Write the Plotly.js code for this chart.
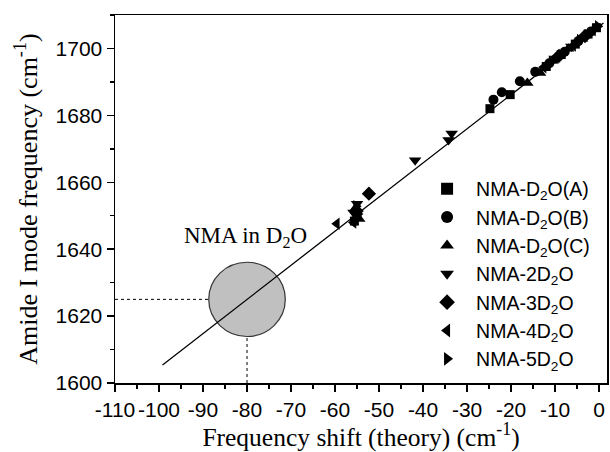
<!DOCTYPE html>
<html>
<head>
<meta charset="utf-8">
<script src="https://cdn.plot.ly/plotly-3.0.1.min.js"></script>
<style>
  html, body { margin: 0; padding: 0; background: #fff; }
  #chart { width: 610px; height: 452px; }
</style>
</head>
<body>
<div id="chart"></div>
<script>
// ---- data ----
const seriesNames = [
  'NMA-D<sub>2</sub>O(A)', 'NMA-D<sub>2</sub>O(B)', 'NMA-D<sub>2</sub>O(C)',
  'NMA-2D<sub>2</sub>O', 'NMA-3D<sub>2</sub>O', 'NMA-4D<sub>2</sub>O', 'NMA-5D<sub>2</sub>O'
];
const xA = [-24.8, -20.2, -55.6, -55.0, -12.0, -8.6, -5.4, -2.5, -0.6];
const yA = [1682.0, 1686.2, 1648.4, 1650.2, 1694.6, 1698.2, 1701.3, 1704.3, 1706.2];
const xB = [-24.0, -22.1, -18.0, -14.5, -11.3, -7.8, -4.7, -1.8];
const yB = [1684.7, 1686.9, 1690.2, 1693.0, 1695.6, 1699.0, 1702.2, 1705.1];
const xC = [-55.5, -54.5, -16.3, -13.4, -10.5, -7.0, -3.9, -1.1];
const yC = [1652.0, 1649.0, 1689.7, 1692.7, 1696.3, 1699.9, 1702.9, 1705.8];
const x2 = [-41.8, -34.2, -33.5, -55.8, -55.0, -9.8, -6.3];
const y2 = [1666.6, 1672.6, 1674.6, 1651.0, 1653.6, 1697.0, 1700.6];
const x3 = [-52.3, -55.1, -9.1, -3.2];
const y3 = [1656.6, 1651.4, 1697.8, 1703.7];
const x4 = [-59.6, -55.8, -12.6, -5.9, -1.4];
const y4 = [1647.6, 1648.0, 1694.4, 1700.9, 1705.5];
const x5 = [-54.8, -55.2, -10.8, -4.4, -0.3];
const y5 = [1650.5, 1652.8, 1696.1, 1702.5, 1706.6];
const fitX = [-99.2, 1.0];
const fitY = [1605.4, 1707.6];
const nmaX = -80;      // NMA in D2O shift
const nmaY = 1625;     // NMA in D2O frequency
const xTickVals = [-110, -100, -90, -80, -70, -60, -50, -40, -30, -20, -10, 0];
const xTickText = ['-110', '-100', '-90', '-80', '-70', '-60', '-50', '-40', '-30', '-20', '-10', '0'];
const yTickVals = [1600, 1620, 1640, 1660, 1680, 1700];
const yTickText = ['1600', '1620', '1640', '1660', '1680', '1700'];

// ---- styles ----
const symbols = ['square', 'circle', 'triangle-up', 'triangle-down', 'diamond', 'triangle-left', 'triangle-right'];
const sizes = [9, 10, 11, 11, 11, 11, 11];
const xs = [xA, xB, xC, x2, x3, x4, x5];
const ys = [yA, yB, yC, y2, y3, y4, y5];

const traces = [{
  x: fitX, y: fitY, mode: 'lines', type: 'scatter',
  line: { color: '#000', width: 1.3 }, showlegend: false, hoverinfo: 'skip'
}];
for (let i = 0; i < xs.length; i++) {
  traces.push({
    x: xs[i], y: ys[i], name: seriesNames[i], mode: 'markers', type: 'scatter',
    marker: { symbol: symbols[i], size: sizes[i], color: '#000', line: { width: 0 } }
  });
}

const rx = 8.7, ry = 11.1;
const serif = '"Liberation Serif", "Times New Roman", serif';
const sans = '"Liberation Sans", Arial, sans-serif';

const layout = {
  width: 610, height: 452,
  margin: { l: 115, r: 3, t: 15, b: 69 },
  paper_bgcolor: '#fff', plot_bgcolor: '#fff',
  font: { family: sans, color: '#000', size: 21 },
  showlegend: true,
  legend: {
    x: 0.616, y: 0.58, xanchor: 'left', yanchor: 'top',
    bgcolor: 'rgba(0,0,0,0)', borderwidth: 0,
    font: { family: sans, size: 19.5, color: '#000' },
    itemwidth: 48, tracegroupgap: 0, itemsizing: 'constant'
  },
  xaxis: {
    range: [-110, 1.8], showgrid: false, zeroline: false,
    tickmode: 'array', tickvals: xTickVals, ticktext: xTickText, tickangle: 0,
    ticks: 'outside', ticklen: 7, tickwidth: 1.5, tickcolor: '#000',
    minor: { dtick: 5, ticks: 'outside', ticklen: 4, tickwidth: 1.5, tickcolor: '#000', showgrid: false },
    showline: true, linecolor: '#000', linewidth: 1.5, mirror: true,
    tickfont: { family: sans, size: 21, color: '#000' },
    title: { text: 'Frequency shift (theory) (cm<sup>-1</sup>)', font: { family: serif, size: 25.5, color: '#000' }, standoff: 6 }
  },
  yaxis: {
    range: [1600, 1710], showgrid: false, zeroline: false,
    tickmode: 'array', tickvals: yTickVals, ticktext: yTickText,
    ticks: 'outside', ticklen: 7, tickwidth: 1.5, tickcolor: '#000',
    minor: { dtick: 10, ticks: 'outside', ticklen: 4, tickwidth: 1.5, tickcolor: '#000', showgrid: false },
    showline: true, linecolor: '#000', linewidth: 1.5, mirror: true,
    tickfont: { family: sans, size: 21, color: '#000' },
    title: { text: 'Amide I mode frequency (cm<sup>-1</sup>)', font: { family: serif, size: 26, color: '#000' }, standoff: 10 }
  },
  shapes: [
    { type: 'circle', xref: 'x', yref: 'y', layer: 'below',
      x0: nmaX - rx, x1: nmaX + rx, y0: nmaY - ry, y1: nmaY + ry,
      fillcolor: '#c0c0c0', line: { color: '#333', width: 1.2 } },
    { type: 'line', xref: 'x', yref: 'y', x0: -110, x1: nmaX - rx, y0: nmaY, y1: nmaY,
      line: { color: '#000', width: 1, dash: 'dot' } },
    { type: 'line', xref: 'x', yref: 'y', x0: nmaX, x1: nmaX, y0: 1600, y1: nmaY - ry,
      line: { color: '#000', width: 1, dash: 'dot' } }
  ],
  annotations: [
    { text: 'NMA in D<sub>2</sub>O', xref: 'x', yref: 'y', x: -94.7, y: 1643.5,
      xanchor: 'left', yanchor: 'middle', showarrow: false,
      font: { family: serif, size: 23, color: '#000' } }
  ]
};

Plotly.newPlot('chart', traces, layout, { displayModeBar: false, staticPlot: true });
</script>
</body>
</html>
